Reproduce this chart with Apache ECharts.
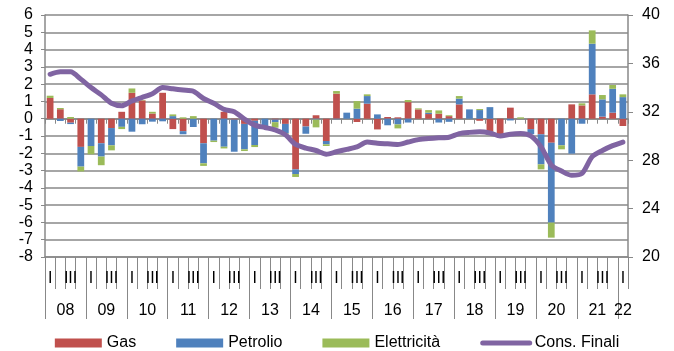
<!DOCTYPE html>
<html>
<head>
<meta charset="utf-8">
<script src="https://cdn.jsdelivr.net/npm/echarts@6/dist/echarts.min.js"></script>
<style>
  html, body { margin: 0; padding: 0; background: #ffffff; }
  #chart { width: 674px; height: 351px; }
</style>
</head>
<body>
<div id="chart"></div>
<script>
// Anni e trimestri (etichette dell'asse orizzontale)
const years = ['08', '09', '10', '11', '12', '13', '14', '15', '16', '17', '18', '19', '20', '21', '22'];
const quarters = ['I', 'II', 'III', 'IV'];

// Contributi trimestrali (asse sinistro)
const gas = [
  1.20, 0.55, -0.23, -1.63,   0.00, -1.42, -0.54, 0.40,
  1.50, 1.06, 0.30, 1.50,     -0.60, -0.72, 0.00, -1.42,
  0.00, 0.40, -0.05, -0.30,   -0.12, 0.00, -0.05, -0.30,
  -2.93, -0.45, 0.20, -1.29,  1.45, 0.00, -0.19, 0.87,
  -0.62, 0.10, 0.08, 0.96,    0.54, 0.27, 0.29, 0.15,
  0.83, 0.00, -0.12, -0.75,   -1.00, 0.64, 0.00, -0.60,
  -0.90, -1.39, 0.00, 0.83,   0.77, 1.41, 0.12, 0.35,
  -0.42
];
const petrolio = [
  0.00, -0.13, -0.08, -1.14,  -1.58, -0.77, -1.00, -0.47,
  -0.75, -0.32, -0.17, -0.15, 0.15, -0.18, -0.48, -1.16,
  -1.27, -1.62, -1.86, -1.47, -1.40, -0.45, -0.15, -0.55,
  -0.27, -0.42, -0.05, -0.19, -0.03, 0.35, 0.58, 0.44,
  0.25, -0.38, -0.33, -0.22,  0.00, 0.08, -0.22, -0.18,
  0.33, 0.54, 0.50, 0.67,     0.00, -0.10, 0.00, -0.30,
  -1.74, -4.62, -1.54, -2.02, -0.29, 2.93, 1.00, 1.38,
  1.25
];
const elettricita = [
  0.13, 0.07, 0.10, -0.28,    -0.48, -0.50, -0.29, -0.13,
  0.25, 0.03, 0.10, 0.00,     0.10, 0.08, 0.15, -0.15,
  -0.08, -0.10, 0.00, -0.10,  -0.12, -0.05, -0.32, -0.05,
  -0.17, 0.00, -0.45, -0.10,  0.15, 0.00, 0.44, 0.10,
  0.00, 0.00, -0.23, 0.12,    0.06, 0.15, 0.19, 0.05,
  0.15, 0.00, 0.06, -0.20,    0.00, 0.00, 0.08, 0.00,
  -0.29, -0.87, -0.23, 0.00,  0.12, 0.77, 0.25, 0.22,
  0.16
];
// Consumi finali (asse destro)
const consFinali = [
  35.1, 35.3, 35.3, 34.7,  34.0, 33.4, 32.7, 32.5,
  32.9, 33.2, 33.5, 34.0,  33.9, 33.8, 33.7, 33.1,
  32.7, 32.2, 32.0, 31.4,  30.9, 30.7, 30.5, 30.1,
  29.3, 29.0, 28.8, 28.5,  28.7, 28.9, 29.1, 29.5,
  29.4, 29.35, 29.3, 29.5, 29.7, 29.8, 29.85, 29.9,
  30.2, 30.3, 30.35, 30.25, 30.0, 30.15, 30.2, 30.0,
  29.1, 27.6, 27.1, 26.75, 26.9, 28.3, 28.8, 29.2,
  29.5
];

const n = gas.length;
const categories = [];
years.forEach(y => quarters.forEach(q => {
  if (categories.length < n) categories.push(y + '|' + q);
}));

// Posizioni dei separatori d'anno e dei centri delle etichette
const yearBounds = [];
const yearCenters = [];
const yearAt = {};
years.forEach((y, k) => {
  const start = 4 * k;
  const len = Math.min(4, n - start);
  yearBounds.push(start);
  const c = start + len / 2;
  yearCenters.push(c);
  yearAt[c] = y;
});

const FONT = "'Liberation Sans', Arial, sans-serif";
const GRID_GREY = '#888888';
const txt = { color: '#000', fontFamily: FONT, fontSize: 16 };

const chart = echarts.init(document.getElementById('chart'), null, { renderer: 'canvas' });
chart.setOption({
  animation: false,
  backgroundColor: '#ffffff',
  color: ['#C0504D', '#4F81BD', '#9BBB59', '#8064A2'],
  grid: { left: 45, right: 46, top: 15, bottom: 94 },
  legend: {
    left: 'center',
    top: 330,
    itemWidth: 47,
    itemHeight: 9,
    itemGap: 40,
    textStyle: { color: '#000', fontFamily: FONT, fontSize: 16 },
    lineStyle: { width: 'inherit', cap: 'round' },
    data: [
      { name: 'Gas', icon: 'rect' },
      { name: 'Petrolio', icon: 'rect' },
      { name: 'Elettricità', icon: 'rect' },
      { name: 'Cons. Finali', itemStyle: { opacity: 0 } }
    ]
  },
  xAxis: [
    {
      // asse delle categorie sullo zero
      type: 'category',
      data: categories,
      position: 'bottom',
      axisLine: { onZero: true, lineStyle: { color: GRID_GREY, width: 1.5 } },
      axisTick: { show: true, interval: 0, length: 5, lineStyle: { color: GRID_GREY } },
      axisLabel: { show: false },
      splitLine: { show: false }
    },
    {
      // etichette dei trimestri in basso
      type: 'category',
      data: categories,
      position: 'bottom',
      axisLine: { onZero: false, lineStyle: { color: GRID_GREY, width: 1.5 } },
      axisTick: { show: true, interval: 0, length: 32, lineStyle: { color: GRID_GREY } },
      axisLabel: {
        interval: 1,
        margin: 14,
        ...txt,
        formatter: v => v.split('|')[1]
      },
      splitLine: { show: false }
    },
    {
      // anni e separatori d'anno
      type: 'value',
      min: 0,
      max: n,
      position: 'bottom',
      axisLine: { show: false, onZero: false },
      axisTick: { show: true, customValues: yearBounds, length: 62, lineStyle: { color: GRID_GREY } },
      axisLabel: {
        customValues: yearCenters,
        margin: 46,
        ...txt,
        formatter: v => yearAt[v] || ''
      },
      splitLine: { show: false }
    }
  ],
  yAxis: [
    {
      type: 'value',
      min: -8,
      max: 6,
      interval: 1,
      position: 'left',
      axisLine: { show: true, onZero: false, lineStyle: { color: GRID_GREY, width: 1.5 } },
      axisTick: { show: true, length: 4, lineStyle: { color: GRID_GREY } },
      axisLabel: { margin: 12, ...txt },
      splitLine: { show: true, lineStyle: { color: GRID_GREY, width: 1.5 } }
    },
    {
      type: 'value',
      min: 20,
      max: 40,
      interval: 4,
      position: 'right',
      axisLine: { show: true, onZero: false, lineStyle: { color: GRID_GREY, width: 1.5 } },
      axisTick: { show: true, length: 5, lineStyle: { color: GRID_GREY } },
      axisLabel: { margin: 14, ...txt },
      splitLine: { show: false }
    }
  ],
  series: [
    { name: 'Gas', type: 'bar', stack: 'tot', data: gas, barWidth: '66%', xAxisIndex: 0, yAxisIndex: 0 },
    { name: 'Petrolio', type: 'bar', stack: 'tot', data: petrolio, barWidth: '66%', xAxisIndex: 0, yAxisIndex: 0 },
    { name: 'Elettricità', type: 'bar', stack: 'tot', data: elettricita, barWidth: '66%', xAxisIndex: 0, yAxisIndex: 0 },
    {
      name: 'Cons. Finali',
      type: 'line',
      data: consFinali,
      xAxisIndex: 0,
      yAxisIndex: 1,
      symbol: 'none',
      smooth: 0.25,
      lineStyle: { width: 5, color: '#8064A2', cap: 'round', join: 'round' },
      z: 5
    }
  ]
});
</script>
</body>
</html>
